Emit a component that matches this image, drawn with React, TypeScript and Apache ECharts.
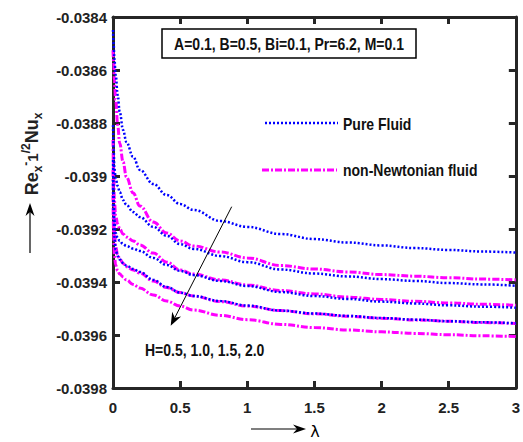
import React, { useEffect, useRef } from "react";
import * as echarts from "echarts";

const lambda = [0, 0.005, 0.01, 0.02, 0.035, 0.05, 0.075, 0.1, 0.15, 0.2, 0.3, 0.4, 0.5, 0.6, 0.8, 1.0, 1.25, 1.5, 1.75, 2.0, 2.25, 2.5, 2.75, 3.0];

// Pure fluid (blue dotted), H = 0.5, 1.0, 1.5, 2.0
const pureH05 = [-0.038449, -0.038506, -0.038555, -0.038619, -0.038694, -0.038758, -0.038826, -0.038872, -0.038928, -0.038977, -0.03903, -0.039072, -0.039106, -0.039128, -0.03917, -0.039192, -0.039219, -0.039238, -0.039251, -0.039262, -0.039272, -0.039279, -0.039285, -0.039289];
const pureH10 = [-0.038808, -0.038902, -0.03897, -0.039008, -0.039038, -0.03906, -0.039091, -0.039109, -0.039136, -0.039155, -0.039192, -0.039226, -0.039257, -0.039275, -0.039302, -0.039325, -0.039353, -0.039368, -0.039379, -0.039389, -0.039396, -0.039404, -0.039409, -0.039414];
const pureH15 = [-0.03894, -0.039072, -0.039166, -0.039215, -0.039234, -0.039245, -0.039257, -0.039264, -0.039274, -0.039283, -0.039309, -0.039336, -0.039358, -0.039374, -0.039396, -0.039415, -0.039438, -0.039453, -0.039464, -0.039474, -0.039481, -0.039488, -0.039493, -0.039497];
const pureH20 = [-0.039015, -0.039147, -0.03923, -0.039279, -0.039302, -0.039315, -0.039328, -0.039338, -0.039351, -0.039362, -0.039392, -0.039419, -0.03944, -0.039453, -0.039472, -0.039489, -0.039508, -0.039519, -0.039528, -0.039536, -0.039542, -0.039548, -0.039552, -0.039556];

// non-Newtonian fluid (magenta dash-dot), H = 0.5, 1.0, 1.5, 2.0
const nonNewtH05 = [-0.038525, -0.03857, -0.038638, -0.038713, -0.038808, -0.038876, -0.038947, -0.039004, -0.039064, -0.039113, -0.039174, -0.039215, -0.039245, -0.039264, -0.039287, -0.039309, -0.039338, -0.039351, -0.039362, -0.039372, -0.039378, -0.039384, -0.039389, -0.039392];
const nonNewtH10 = [-0.038864, -0.038996, -0.039091, -0.039151, -0.039181, -0.0392, -0.039219, -0.03923, -0.039245, -0.03926, -0.039291, -0.039325, -0.039355, -0.03937, -0.039392, -0.039411, -0.039432, -0.039445, -0.039457, -0.039466, -0.039473, -0.039479, -0.039484, -0.039488];
const nonNewtH15 = [-0.038977, -0.039109, -0.039204, -0.039268, -0.039298, -0.039313, -0.03933, -0.039342, -0.039355, -0.039366, -0.039396, -0.039421, -0.03944, -0.039453, -0.039474, -0.039491, -0.039508, -0.03952, -0.039529, -0.039537, -0.039543, -0.039548, -0.039553, -0.039557];
const nonNewtH20 = [-0.039072, -0.039223, -0.039298, -0.039336, -0.039358, -0.03937, -0.039381, -0.039392, -0.039409, -0.039423, -0.039449, -0.039472, -0.039491, -0.039506, -0.039526, -0.039542, -0.03956, -0.039572, -0.039581, -0.039588, -0.039594, -0.039599, -0.039603, -0.039606];

const pureSeries = [pureH05, pureH10, pureH15, pureH20];
const nonNewtSeries = [nonNewtH05, nonNewtH10, nonNewtH15, nonNewtH20];

const paramText = "A=0.1, B=0.5, Bi=0.1, Pr=6.2, M=0.1";
const hText = "H=0.5, 1.0, 1.5, 2.0";
const legendPure = "Pure Fluid";
const legendNon = "non-Newtonian fluid";

const FONT = "'Liberation Sans', Arial, sans-serif";
const AXIS_COLOR = "#262626";
const BLUE = "#0000ff";
const MAGENTA = "#ff00ff";

function fmtY(v: number) {
  let s = v.toFixed(4);
  s = s.replace(/0+$/, "").replace(/\.$/, "");
  return s;
}

export default function App() {
  const ref = useRef<HTMLDivElement>(null);
  useEffect(() => {
    if (!ref.current) return;
    const chart = echarts.init(ref.current, undefined, { renderer: "svg" });
    const mk = (arr: number[]) => lambda.map((l, i) => [l, arr[i]]);
    const series: any[] = [];
    nonNewtSeries.forEach((arr, i) => {
      series.push({
        type: "line",
        name: legendNon + i,
        data: mk(arr),
        showSymbol: false,
        smooth: 0.4,
        smoothMonotone: "x",
        lineStyle: { color: MAGENTA, width: 3, type: [7, 2, 2, 2] },
        z: 2,
      });
    });
    pureSeries.forEach((arr, i) => {
      series.push({
        type: "line",
        name: legendPure + i,
        data: mk(arr),
        showSymbol: false,
        smooth: 0.4,
        smoothMonotone: "x",
        lineStyle: { color: BLUE, width: 2.5, type: [2, 2] },
        z: 3,
      });
    });

    const axisLine = { show: true, onZero: false, lineStyle: { color: AXIS_COLOR, width: 3 } };
    const axisTick = { show: true, inside: true, length: 7, lineStyle: { color: AXIS_COLOR, width: 3 } };
    const labelStyle = { fontFamily: FONT, fontWeight: "bold" as const, fontSize: 15, color: "#222" };

    const arrowU = (tx: number, ty: number, fx: number, fy: number, len: number, half: number, notch: number) => {
      const dx = tx - fx, dy = ty - fy;
      const L = Math.sqrt(dx * dx + dy * dy);
      const ux = dx / L, uy = dy / L;
      const px = -uy, py = ux;
      const bx = tx - len * ux, by = ty - len * uy;
      return [
        [tx, ty],
        [bx + half * px, by + half * py],
        [tx - notch * ux, ty - notch * uy],
        [bx - half * px, by - half * py],
      ];
    };

    const SY = 1.15;

    chart.setOption({
      animation: false,
      backgroundColor: "#fff",
      grid: { left: 113, right: 4, top: 17, bottom: 54, containLabel: false },
      xAxis: [
        {
          type: "value", min: 0, max: 3, interval: 0.5, position: "bottom",
          axisLine, axisTick, splitLine: { show: false },
          axisLabel: { ...labelStyle, margin: 12, formatter: (v: number) => String(v) },
        },
        {
          type: "value", min: 0, max: 3, interval: 0.5, position: "top",
          axisLine, axisTick, splitLine: { show: false }, axisLabel: { show: false },
        },
      ],
      yAxis: [
        {
          type: "value", min: -0.0398, max: -0.0384, interval: 0.0002, position: "left",
          axisLine, axisTick, splitLine: { show: false },
          axisLabel: { ...labelStyle, margin: 6, formatter: (v: number) => fmtY(v) },
        },
        {
          type: "value", min: -0.0398, max: -0.0384, interval: 0.0002, position: "right",
          axisLine, axisTick, splitLine: { show: false }, axisLabel: { show: false },
        },
      ],
      series,
      graphic: [
        {
          type: "rect", shape: { x: 162, y: 29, width: 254, height: 29 },
          style: { fill: "#fff", stroke: "#000", lineWidth: 1.5 }, z: 10,
        },
        {
          type: "text", x: 289, y: 44, scaleY: SY, z: 11,
          style: { text: paramText, font: `bold 14px ${FONT}`, fill: "#111", align: "center", verticalAlign: "middle" },
        },
        {
          type: "line", shape: { x1: 265, y1: 123, x2: 338, y2: 123 }, z: 10,
          style: { stroke: BLUE, lineWidth: 2.5, lineDash: [2, 2] },
        },
        {
          type: "text", x: 343, y: 124, scaleY: SY, z: 10,
          style: { text: legendPure, font: `bold 14px ${FONT}`, fill: "#111", align: "left", verticalAlign: "middle" },
        },
        {
          type: "line", shape: { x1: 262, y1: 170, x2: 337, y2: 170 }, z: 10,
          style: { stroke: MAGENTA, lineWidth: 3, lineDash: [7, 2, 2, 2] },
        },
        {
          type: "text", x: 343, y: 170, scaleY: SY, z: 10,
          style: { text: legendNon, font: `bold 14px ${FONT}`, fill: "#111", align: "left", verticalAlign: "middle" },
        },
        {
          type: "line", shape: { x1: 231.7, y1: 206.7, x2: 174.8, y2: 317.7 }, z: 10,
          style: { stroke: "#000", lineWidth: 1 },
        },
        {
          type: "polygon", z: 10,
          shape: { points: arrowU(170.7, 325.7, 231.7, 206.7, 13, 5, 9) },
          style: { fill: "#000" },
        },
        {
          type: "text", x: 145, y: 350, scaleY: SY, z: 10,
          style: { text: hText, font: `bold 14px ${FONT}`, fill: "#111", align: "left", verticalAlign: "middle" },
        },
        {
          type: "line", shape: { x1: 251, y1: 429, x2: 298, y2: 429 }, z: 10,
          style: { stroke: "#000", lineWidth: 1.2 },
        },
        {
          type: "polygon", z: 10,
          shape: { points: arrowU(306, 429, 251, 429, 13, 4.5, 9) },
          style: { fill: "#000" },
        },
        {
          type: "text", x: 315, y: 431, z: 10,
          style: { text: "λ", font: `16px 'DejaVu Sans', sans-serif`, fill: "#000", align: "center", verticalAlign: "middle" },
        },
        {
          type: "line", shape: { x1: 30, y1: 253, x2: 30, y2: 211 }, z: 10,
          style: { stroke: "#000", lineWidth: 1.2 },
        },
        {
          type: "polygon", z: 10,
          shape: { points: arrowU(30, 203, 30, 253, 13, 4.5, 9) },
          style: { fill: "#000" },
        },
        {
          type: "text", x: 32, y: 154, rotation: Math.PI / 2, z: 10,
          style: {
            text: "{b|Re}{sub|x}{sup|-}{mid|1}{sup|/2}{b|Nu}{sub|x}",
            align: "center", verticalAlign: "middle", fill: "#222",
            rich: {
              b: { fontFamily: FONT, fontWeight: "bold", fontSize: 18, fill: "#222", verticalAlign: "middle", lineHeight: 24 },
              sub: { fontFamily: FONT, fontWeight: "bold", fontSize: 12, fill: "#222", verticalAlign: "bottom", lineHeight: 24 },
              sup: { fontFamily: FONT, fontWeight: "bold", fontSize: 12, fill: "#222", verticalAlign: "top", lineHeight: 24 },
              mid: { fontFamily: FONT, fontWeight: "bold", fontSize: 15, fill: "#222", verticalAlign: "middle", lineHeight: 24 },
            },
          },
        },
      ],
    });
    return () => chart.dispose();
  }, []);
  return <div ref={ref} style={{ position: "fixed", left: 0, top: 0, width: 523, height: 442 }} />;
}
